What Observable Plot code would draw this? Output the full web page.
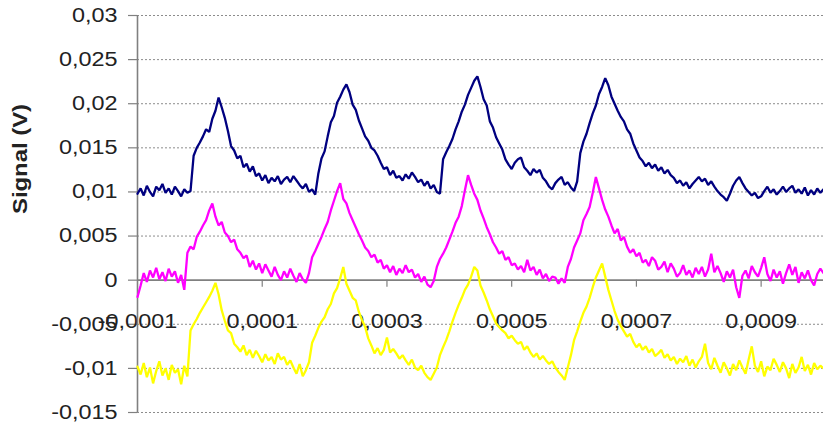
<!DOCTYPE html>
<html>
<head>
<meta charset="utf-8">
<script src="https://cdn.jsdelivr.net/npm/d3@7"></script>
<script src="https://cdn.jsdelivr.net/npm/@observablehq/plot@0.6"></script>
<style>
  html, body { margin: 0; padding: 0; background: #fff; }
</style>
</head>
<body>
<script>
// Sampling of the traces (seconds)
const timeStart = -0.0001;
const timeStep = 0.000005;

// Axis ticks and labels
const xDomain = [-0.0001, 0.001];
const yDomain = [-0.015, 0.03];
const xTicks = [-0.0001, 0.0001, 0.0003, 0.0005, 0.0007, 0.0009];
const xTickLabels = ["-0,0001", "0,0001", "0,0003", "0,0005", "0,0007", "0,0009"];
const yTicks = [-0.015, -0.01, -0.005, 0, 0.005, 0.01, 0.015, 0.02, 0.025, 0.03];
const yTickLabels = ["-0,015", "-0,01", "-0,005", "0", "0,005", "0,01", "0,015", "0,02", "0,025", "0,03"];
const yTitle = "Signal (V)";

// Series values (V)
const navySignal = [
  0.0098, 0.0104, 0.0096, 0.0107, 0.0100, 0.0095, 0.0106, 0.0102, 0.0109, 0.0099,
  0.0104, 0.0097, 0.0106, 0.0101, 0.0095, 0.0103, 0.0099, 0.0101, 0.0141, 0.0150,
  0.0156, 0.0163, 0.0171, 0.0168, 0.0183, 0.0192, 0.0207, 0.0196, 0.0184, 0.0169,
  0.0152, 0.0147, 0.0138, 0.0141, 0.0128, 0.0132, 0.0123, 0.0129, 0.0118, 0.0121,
  0.0113, 0.0119, 0.0110, 0.0116, 0.0112, 0.0118, 0.0109, 0.0114, 0.0117, 0.0111,
  0.0118, 0.0113, 0.0108, 0.0104, 0.0109, 0.0100, 0.0103, 0.0097, 0.0121, 0.0138,
  0.0146, 0.0163, 0.0179, 0.0186, 0.0201, 0.0208, 0.0216, 0.0222, 0.0213, 0.0199,
  0.0193, 0.0181, 0.0172, 0.0163, 0.0158, 0.0150, 0.0147, 0.0141, 0.0133, 0.0126,
  0.0128, 0.0119, 0.0124, 0.0116, 0.0118, 0.0113, 0.0120, 0.0115, 0.0122, 0.0117,
  0.0111, 0.0114, 0.0107, 0.0112, 0.0104, 0.0108, 0.0100, 0.0098, 0.0137, 0.0145,
  0.0152, 0.0160, 0.0171, 0.0180, 0.0191, 0.0199, 0.0210, 0.0218, 0.0226, 0.0231,
  0.0219, 0.0205, 0.0198, 0.0180, 0.0173, 0.0162, 0.0155, 0.0148, 0.0137, 0.0131,
  0.0126, 0.0133, 0.0137, 0.0139, 0.0128, 0.0124, 0.0119, 0.0126, 0.0122, 0.0125,
  0.0116, 0.0112, 0.0106, 0.0103, 0.0110, 0.0114, 0.0117, 0.0108, 0.0111, 0.0105,
  0.0101, 0.0112, 0.0144, 0.0157, 0.0166, 0.0178, 0.0189, 0.0198, 0.0211, 0.0219,
  0.0229, 0.0221, 0.0208, 0.0200, 0.0192, 0.0185, 0.0180, 0.0171, 0.0166, 0.0155,
  0.0147, 0.0139, 0.0135, 0.0129, 0.0133, 0.0127, 0.0131, 0.0124, 0.0128, 0.0121,
  0.0125, 0.0119, 0.0116, 0.0110, 0.0113, 0.0107, 0.0111, 0.0104, 0.0109, 0.0113,
  0.0117, 0.0112, 0.0115, 0.0108, 0.0112, 0.0106, 0.0101, 0.0097, 0.0094, 0.0090,
  0.0098, 0.0107, 0.0113, 0.0117, 0.0110, 0.0104, 0.0100, 0.0096, 0.0099, 0.0093,
  0.0095, 0.0101, 0.0106, 0.0099, 0.0103, 0.0097, 0.0101, 0.0106, 0.0100, 0.0104,
  0.0107, 0.0099, 0.0103, 0.0098, 0.0105, 0.0096, 0.0102, 0.0097, 0.0104, 0.0099,
  0.0103
];

const magentaSignal = [
  -0.0019, -0.0006, 0.0008, -0.0002, 0.0011, 0.0003, 0.0014, 0.0001, 0.0009, -0.0001,
  0.0013, 0.0004, 0.0010, -0.0003, 0.0006, -0.0011, 0.0031, 0.0038, 0.0035, 0.0049,
  0.0055, 0.0062, 0.0068, 0.0079, 0.0087, 0.0072, 0.0062, 0.0066, 0.0054, 0.0050,
  0.0043, 0.0046, 0.0035, 0.0031, 0.0025, 0.0028, 0.0015, 0.0022, 0.0012, 0.0019,
  0.0008, 0.0018, 0.0011, 0.0004, 0.0015, 0.0006, 0.0000, 0.0010, 0.0003, 0.0013,
  0.0005, -0.0002, 0.0008, 0.0001, -0.0003, 0.0008, 0.0026, 0.0033, 0.0041, 0.0049,
  0.0058, 0.0066, 0.0079, 0.0090, 0.0101, 0.0110, 0.0092, 0.0087, 0.0076, 0.0068,
  0.0060, 0.0052, 0.0045, 0.0037, 0.0033, 0.0026, 0.0029, 0.0020, 0.0023, 0.0013,
  0.0017, 0.0009, 0.0016, 0.0006, 0.0013, 0.0008, 0.0017, 0.0009, 0.0012, 0.0003,
  0.0007, -0.0002, 0.0004, -0.0005, -0.0008, -0.0001, 0.0015, 0.0024, 0.0030, 0.0037,
  0.0046, 0.0055, 0.0065, 0.0072, 0.0084, 0.0102, 0.0119, 0.0108, 0.0098, 0.0091,
  0.0079, 0.0070, 0.0060, 0.0052, 0.0043, 0.0037, 0.0030, 0.0033, 0.0023, 0.0026,
  0.0017, 0.0019, 0.0012, 0.0016, 0.0009, 0.0023, 0.0011, 0.0015, 0.0006, 0.0012,
  0.0002, 0.0007, -0.0001, 0.0004, 0.0003, -0.0004, 0.0002, -0.0003, 0.0015, 0.0024,
  0.0037, 0.0045, 0.0053, 0.0068, 0.0075, 0.0083, 0.0099, 0.0117, 0.0104, 0.0091,
  0.0080, 0.0072, 0.0062, 0.0053, 0.0058, 0.0045, 0.0049, 0.0038, 0.0031, 0.0035,
  0.0027, 0.0031, 0.0020, 0.0023, 0.0016, 0.0026, 0.0022, 0.0012, 0.0015, 0.0021,
  0.0009, 0.0019, 0.0013, 0.0004, 0.0008, 0.0017, 0.0006, 0.0011, 0.0003, 0.0014,
  0.0007, 0.0015, 0.0004, 0.0012, 0.0030, 0.0009, 0.0016, 0.0008, -0.0002, 0.0010,
  0.0003, 0.0012, -0.0008, -0.0020, 0.0005, 0.0011, 0.0002, 0.0016, 0.0009, 0.0004,
  0.0014, 0.0026, 0.0007, -0.0001, 0.0012, 0.0003, 0.0010, -0.0004, 0.0008, 0.0018,
  0.0006, 0.0015, -0.0003, 0.0009, 0.0002, 0.0011, 0.0000, -0.0006, 0.0007, 0.0013,
  0.0008
];

const yellowSignal = [
  -0.0098, -0.0107, -0.0094, -0.0110, -0.0099, -0.0117, -0.0103, -0.0092, -0.0108, -0.0100,
  -0.0113, -0.0096, -0.0105, -0.0101, -0.0118, -0.0097, -0.0109, -0.0057, -0.0050, -0.0044,
  -0.0037, -0.0031, -0.0025, -0.0019, -0.0012, -0.0003, -0.0016, -0.0034, -0.0046, -0.0057,
  -0.0060, -0.0072, -0.0076, -0.0081, -0.0074, -0.0085, -0.0079, -0.0088, -0.0080, -0.0086,
  -0.0093, -0.0084, -0.0091, -0.0087, -0.0095, -0.0083, -0.0090, -0.0087, -0.0096, -0.0091,
  -0.0099, -0.0106, -0.0095, -0.0109, -0.0102, -0.0093, -0.0071, -0.0063, -0.0054, -0.0047,
  -0.0042, -0.0033, -0.0027, -0.0015, -0.0009, 0.0002, 0.0015, -0.0004, -0.0012, -0.0020,
  -0.0023, -0.0036, -0.0045, -0.0053, -0.0066, -0.0074, -0.0083, -0.0077, -0.0085, -0.0079,
  -0.0065, -0.0082, -0.0078, -0.0083, -0.0089, -0.0085, -0.0091, -0.0096, -0.0090, -0.0099,
  -0.0102, -0.0097, -0.0105, -0.0110, -0.0113, -0.0106, -0.0099, -0.0085, -0.0076, -0.0068,
  -0.0058, -0.0047, -0.0037, -0.0028, -0.0020, -0.0011, -0.0005, 0.0004, 0.0015, 0.0011,
  -0.0006, -0.0014, -0.0023, -0.0033, -0.0041, -0.0049, -0.0053, -0.0057, -0.0060, -0.0066,
  -0.0063, -0.0068, -0.0072, -0.0070, -0.0079, -0.0075, -0.0082, -0.0087, -0.0083, -0.0090,
  -0.0086, -0.0091, -0.0095, -0.0092, -0.0099, -0.0104, -0.0108, -0.0113, -0.0099, -0.0085,
  -0.0068, -0.0058, -0.0047, -0.0037, -0.0030, -0.0020, -0.0008, 0.0003, 0.0011, 0.0019,
  0.0004, -0.0011, -0.0023, -0.0035, -0.0045, -0.0052, -0.0058, -0.0064, -0.0061, -0.0070,
  -0.0076, -0.0072, -0.0079, -0.0075, -0.0082, -0.0078, -0.0086, -0.0083, -0.0079, -0.0088,
  -0.0084, -0.0091, -0.0087, -0.0095, -0.0089, -0.0093, -0.0086, -0.0097, -0.0090, -0.0099,
  -0.0092, -0.0087, -0.0072, -0.0094, -0.0101, -0.0088, -0.0097, -0.0105, -0.0093, -0.0100,
  -0.0108, -0.0095, -0.0102, -0.0091, -0.0099, -0.0106, -0.0090, -0.0075, -0.0097, -0.0104,
  -0.0092, -0.0109, -0.0098, -0.0102, -0.0089, -0.0096, -0.0104, -0.0093, -0.0100, -0.0111,
  -0.0095, -0.0105, -0.0099, -0.0087, -0.0103, -0.0096, -0.0107, -0.0094, -0.0101, -0.0097,
  -0.0100
];

const toRows = (values) => values.map((v, i) => ({t: timeStart + i * timeStep, v}));

const axisGray = "#808080";
const textColor = "#222222";

const chart = Plot.plot({
  width: 823,
  height: 425,
  marginLeft: 137,
  marginRight: 0,
  marginTop: 15,
  marginBottom: 13,
  x: {domain: xDomain, axis: null},
  y: {domain: yDomain, axis: null},
  style: {
    background: "#ffffff",
    fontFamily: "Arial, 'Liberation Sans', sans-serif",
    fontSize: "20px",
    color: textColor
  },
  marks: [
    // dashed horizontal gridlines
    Plot.ruleY(yTicks.filter(d => d !== 0), {stroke: "#8c8c8c", strokeDasharray: "2,2", strokeWidth: 1}),
    // y tick marks left of the axis
    Plot.ruleY(yTicks, {x1: () => xDomain[0], x2: () => xDomain[0], insetLeft: -9, stroke: axisGray, strokeWidth: 1.2}),
    // x tick marks below the zero line
    Plot.ruleX(xTicks.slice(1), {x: d => d, y1: () => 0, y2: () => 0, insetBottom: -7, stroke: axisGray, strokeWidth: 1.2}),
    // x tick labels along the zero line
    Plot.text(xTicks, {x: d => d, y: () => 0, text: (d, i) => xTickLabels[i], dy: 41, fontSize: 20, fill: textColor}),
    // zero line and y axis
    Plot.ruleY([0], {stroke: axisGray, strokeWidth: 1.6}),
    Plot.ruleX([xDomain[0]], {stroke: axisGray, strokeWidth: 1.6}),
    // traces
    Plot.line(toRows(yellowSignal), {x: "t", y: "v", stroke: "#ffff00", strokeWidth: 2.3, strokeLinejoin: "miter"}),
    Plot.line(toRows(magentaSignal), {x: "t", y: "v", stroke: "#ff00ff", strokeWidth: 2.3, strokeLinejoin: "miter"}),
    Plot.line(toRows(navySignal), {x: "t", y: "v", stroke: "#000080", strokeWidth: 2.3, strokeLinejoin: "miter"}),
    // y tick labels
    Plot.text(yTicks, {y: d => d, text: (d, i) => yTickLabels[i], frameAnchor: "left", textAnchor: "end", dx: -20, fontSize: 20, fill: textColor}),
    // y axis title
    Plot.text([yTitle], {frameAnchor: "left", rotate: -90, dx: -117, fontWeight: "bold", fontSize: 21, fill: textColor})
  ]
});

document.body.append(chart);

// widen the glyphs like the reference's stretched rendering
chart.querySelectorAll("text").forEach(t => {
  const len = t.getComputedTextLength();
  const target = t.textContent === yTitle ? 110 : len * 1.17;
  t.setAttribute("textLength", target);
  t.setAttribute("lengthAdjust", "spacingAndGlyphs");
});
</script>
</body>
</html>
